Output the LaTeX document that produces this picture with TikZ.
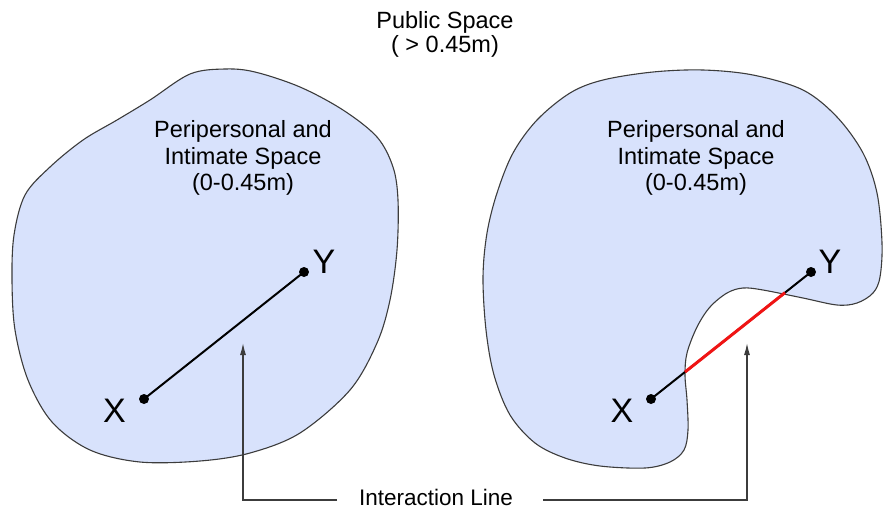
\documentclass[tikz,border=0pt]{standalone}
\usepackage{fontspec}
\setmainfont{Liberation Sans}
\usetikzlibrary{calc,arrows.meta}
\definecolor{blobfill}{RGB}{216,226,252}
\definecolor{blobline}{RGB}{60,60,60}
\definecolor{connline}{RGB}{60,60,60}
\definecolor{redline}{RGB}{240,20,20}
\tikzset{
  blob/.style={fill=blobfill, draw=blobline, line width=1.1pt},
  label/.style={font=\fontsize{23.5}{26}\selectfont, align=center, inner sep=0pt},
  letter/.style={font=\fontsize{34}{36}\selectfont, inner sep=0pt, anchor=base},
  dotnode/.style={circle, fill=black, inner sep=0pt, minimum size=10pt},
  xyline/.style={line width=2pt, black},
  redseg/.style={line width=3pt, redline},
  conn/.style={line width=1.3pt, connline, -{Latex[length=12pt,width=6pt]}},
}
\begin{document}
\begin{tikzpicture}[x=1pt,y=-1pt]
\useasboundingbox (0,0) rectangle (883,512);
% left blob
\draw[blob] plot[smooth cycle, tension=0.55] coordinates {
 (190,74) (225,69) (255,72) (300,87) (343,110) (377,137) (393,167) (398,200)
 (397,250) (390,300) (377,343) (350,390) (300,433) (250,453) (200,461) (140,462)
 (90,450) (52,422) (28,380) (15,330) (12,280) (14,235) (25,195) (50,167)
 (83,140) (117,120) (150,100)};
% right blob
\draw[blob] plot[smooth cycle, tension=0.55] coordinates {
 (653,72) (703,70) (753,75) (803,90) (837,117) (863,153) (877,193) (882,243)
 (880,277) (873,293) (857,303) (837,305) (803,298) (763,290) (743,288) (727,293)
 (710,307) (697,327) (687,353) (685,375) (687,400) (688,430) (684,450) (670,462)
 (645,468) (600,466) (565,458) (535,443) (510,415) (494,375) (486,330)
 (483,277) (487,233) (497,193) (513,153) (537,120) (570,93) (603,80)};

% texts
\node[label, anchor=base] (pub1) at (445,28) {Public Space};
\node[label, anchor=base] (pub2) at (445,52) {( > 0.45m)};
\node[label, anchor=base] (l1) at (243,137.5) {Peripersonal and};
\node[label, anchor=base] (l2) at (243,164) {Intimate Space};
\node[label, anchor=base] (l3) at (243,190) {(0-0.45m)};
\node[label, anchor=base] (r1) at (696,137.5) {Peripersonal and};
\node[label, anchor=base] (r2) at (696,164) {Intimate Space};
\node[label, anchor=base] (r3) at (696,190) {(0-0.45m)};

% points
\node[dotnode] (xl) at (144,399) {};
\node[dotnode] (yl) at (304,272) {};
\node[dotnode] (xr) at (651,399) {};
\node[dotnode] (yr) at (811,272) {};
\node[letter] (lxl) at (114.5,422) {X};
\node[letter] (lyl) at (324,273) {Y};
\node[letter] (lxr) at (622,422) {X};
\node[letter] (lyr) at (830,273) {Y};

\draw[xyline] (xl.center) -- (yl.center);
\draw[xyline] (xr.center) -- (yr.center);
\draw[redseg] ($(xr.center)!0.2125!(yr.center)$) -- ($(xr.center)!0.8375!(yr.center)$);

% interaction line
\node[font=\fontsize{22.5}{24}\selectfont, inner sep=0pt, anchor=base] (il) at (436,505) {Interaction Line};
\coordinate (hl) at (337,500);
\coordinate (hr) at (543,500);
\coordinate (tipl) at (243,343);
\coordinate (tipr) at (747,343);
\draw[conn] (hl) -| (tipl);
\draw[conn] (hr) -| (tipr);
\end{tikzpicture}
\end{document}
